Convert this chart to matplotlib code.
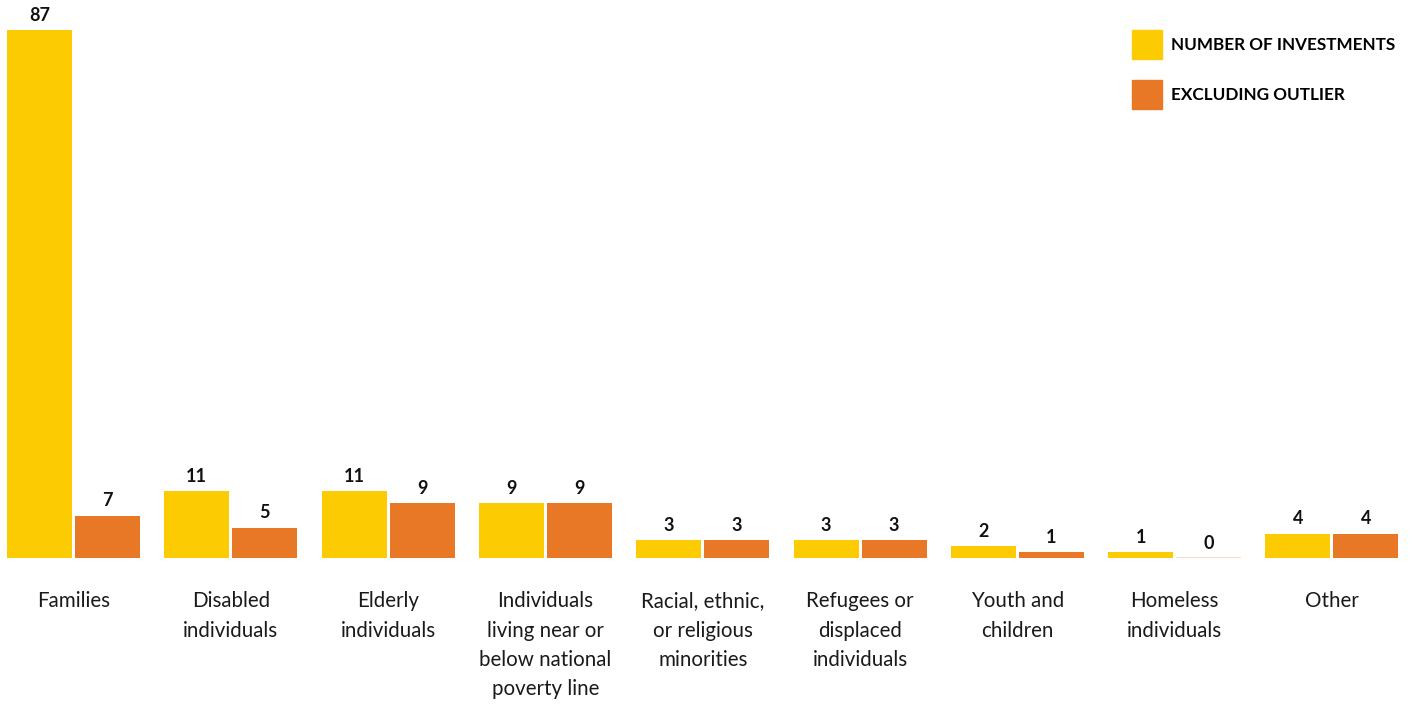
import matplotlib.pyplot as plt
import numpy as np
from matplotlib.patches import Patch

categories = ["Families", "Disabled\nindividuals", "Elderly\nindividuals",
              "Individuals\nliving near or\nbelow national\npoverty line",
              "Racial, ethnic,\nor religious\nminorities", "Refugees or\ndisplaced\nindividuals",
              "Youth and\nchildren", "Homeless\nindividuals", "Other"]
investments = [87, 11, 11, 9, 3, 3, 2, 1, 4]
excluding_outlier = [7, 5, 9, 9, 3, 3, 1, 0, 4]
series_names = ["NUMBER OF INVESTMENTS", "EXCLUDING OUTLIER"]

yellow = "#FDCB02"
orange = "#E87726"
pale = "#F8DCC6"

plt.rcParams['font.family'] = ['Lato', 'DejaVu Sans']

fig = plt.figure(figsize=(14.16, 7.04), dpi=100)
ax = fig.add_axes([0, 146 / 704, 1, 558 / 704])

x = np.arange(len(categories))
step = 157.3
w = 65 / step
off = 34 / step

ax.bar(x - off, investments, width=w, color=yellow)
heights = [v if v > 0 else 0.18 for v in excluding_outlier]
colors = [orange if v > 0 else pale for v in excluding_outlier]
ax.bar(x + off, heights, width=w, color=colors)

for i in range(len(categories)):
    ax.annotate(str(investments[i]), (x[i] - off, investments[i]), xytext=(0, 4.5),
                textcoords="offset points", ha="center", va="bottom",
                fontsize=13, fontweight="bold", color="#111111")
    ax.annotate(str(excluding_outlier[i]), (x[i] + off, excluding_outlier[i]), xytext=(0, 4.5),
                textcoords="offset points", ha="center", va="bottom",
                fontsize=13, fontweight="bold", color="#111111")
    ax.annotate(categories[i], (x[i], 0), xytext=(0, -24), textcoords="offset points",
                ha="center", va="top", fontsize=14.8, color="#1a1a1a", linespacing=1.58)

ax.set_xlim(-73.5 / step, (1416 - 73.5) / step)
ax.set_ylim(0, 558 / 6.069)
ax.axis("off")

handles = [Patch(color=yellow), Patch(color=orange)]
fig.legend(handles, series_names, loc="upper left", bbox_to_anchor=(1132 / 1416, 1 - 30 / 704),
           frameon=False, prop={"weight": "bold", "size": 12.3}, handlelength=1.76,
           handleheight=2.25, handletextpad=0.5, labelspacing=1.2, borderpad=0, borderaxespad=0)

fig.savefig("out.png", dpi=100)
